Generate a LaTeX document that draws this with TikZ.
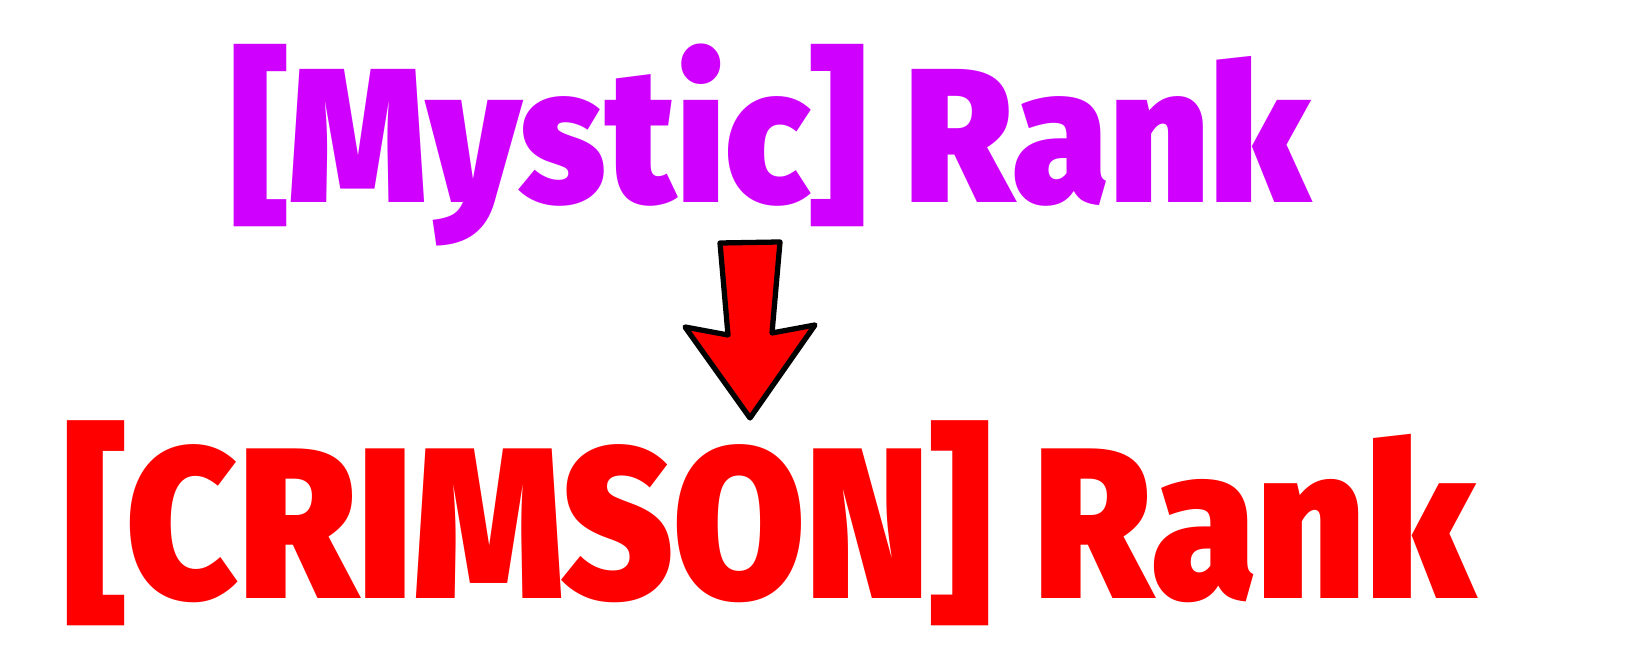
\documentclass[tikz,border=0pt]{standalone}
\usepackage{fontspec}
\setmainfont{Fira Sans}[UprightFont=* Black, BoldFont=* Black]
\definecolor{mystic}{HTML}{D000FF}
\definecolor{crimson}{HTML}{FF0000}
\tikzset{rank/.style={inner sep=0pt, font=\bfseries}}
\begin{document}
\begin{tikzpicture}[x=0.01cm,y=0.01cm]
\useasboundingbox (0,0) rectangle (1640,664);
\node[rank, text=mystic] (top) at (771,519) {\resizebox*{10.78cm}{2.02cm}{[Mystic] Rank}};
\node[rank, text=crimson] (bot) at (770,141) {\resizebox*{14.1cm}{2.05cm}{[CRIMSON] Rank}};
\draw[line width=1.5pt, line join=round, fill=crimson] (720,421) -- (780,422) -- (772,331) -- (815,339) -- (750,246) -- (685,337) -- (728,329) -- cycle;
\end{tikzpicture}
\end{document}
